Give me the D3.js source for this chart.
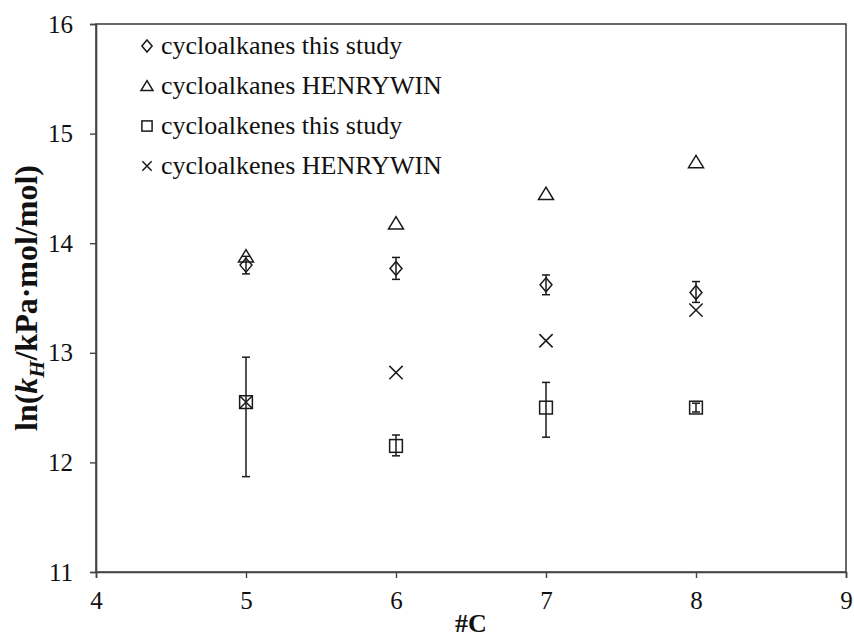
<!DOCTYPE html>
<html>
<head>
<meta charset="utf-8">
<script src="https://cdn.jsdelivr.net/npm/d3@7"></script>
<style>
  html, body { margin: 0; padding: 0; background: #fff; }
  svg { display: block; }
  text { font-family: "Liberation Serif", "Times New Roman", serif; fill: #111; }
</style>
</head>
<body>
<svg id="chart" width="854" height="641"></svg>
<script>
// Number of carbon atoms
const carbons = [5, 6, 7, 8];

// ln(kH) values per series; error bars given as [low, high]
const alkanesStudy = [13.80, 13.77, 13.62, 13.55];
const alkanesStudyErr = [[13.72, 13.88], [13.67, 13.87], [13.53, 13.71], [13.46, 13.65]];
const alkanesHenrywin = [13.88, 14.18, 14.45, 14.74];
const alkenesStudy = [12.55, 12.15, 12.50, 12.50];
const alkenesStudyErr = [[11.87, 12.96], [12.06, 12.25], [12.23, 12.73], [12.46, 12.54]];
const alkenesHenrywin = [12.55, 12.82, 13.11, 13.39];

const xTicks = [4, 5, 6, 7, 8, 9];
const yTicks = [11, 12, 13, 14, 15, 16];

const legendLabels = [
  "cycloalkanes this study",
  "cycloalkanes HENRYWIN",
  "cycloalkenes this study",
  "cycloalkenes HENRYWIN"
];
const legendShapes = ["diamond", "triangle", "square", "cross"];

const margin = { left: 96, right: 8, top: 24, bottom: 69 };
const W = 854, H = 641;
const svg = d3.select("#chart");

const x = d3.scaleLinear().domain([4, 9]).range([margin.left, W - margin.right]);
const y = d3.scaleLinear().domain([11, 16]).range([H - margin.bottom, margin.top]);

const axisColor = "#444";
const markColor = "#1a1a1a";
const serif = "Liberation Serif, Times New Roman, serif";

// Frame
svg.append("rect")
  .attr("x", x(4)).attr("y", y(16))
  .attr("width", x(9) - x(4)).attr("height", y(11) - y(16))
  .attr("fill", "none").attr("stroke", axisColor).attr("stroke-width", 1.6);

// Axes
const xAxis = svg.append("g")
  .attr("transform", `translate(0,${y(11)})`)
  .call(d3.axisBottom(x).tickValues(xTicks).tickSize(6).tickPadding(13).tickFormat(d3.format("d")));
const yAxis = svg.append("g")
  .attr("transform", `translate(${x(4)},0)`)
  .call(d3.axisLeft(y).tickValues(yTicks).tickSize(6).tickPadding(17).tickFormat(d3.format("d")));
[xAxis, yAxis].forEach(g => {
  g.attr("font-family", serif);
  g.select(".domain").attr("stroke", axisColor).attr("stroke-width", 1.6);
  g.selectAll(".tick line").attr("stroke", axisColor).attr("stroke-width", 1.4);
  g.selectAll(".tick text")
    .attr("font-family", serif)
    .attr("font-size", 25).attr("fill", "#111");
});

// Axis titles
svg.append("text")
  .attr("x", (x(4) + x(9)) / 2).attr("y", 632)
  .attr("text-anchor", "middle")
  .attr("font-family", serif)
  .attr("font-size", 26).attr("font-weight", "bold")
  .text("#C");

const yTitle = svg.append("text")
  .attr("transform", `translate(37,${(y(11) + y(16)) / 2}) rotate(-90)`)
  .attr("text-anchor", "middle")
  .attr("font-family", serif)
  .attr("font-size", 32).attr("font-weight", "bold");
yTitle.append("tspan").text("ln(");
yTitle.append("tspan").attr("font-style", "italic").text("k");
yTitle.append("tspan").attr("font-style", "italic").attr("font-size", 22).attr("dy", 7).text("H");
yTitle.append("tspan").attr("dy", -7).text("/kPa·mol/mol)");

// Marker drawing
function drawMarker(g, shape, cx, cy, s) {
  const h = s / 2;
  const common = sel => sel.attr("fill", "none").attr("stroke", markColor).attr("stroke-width", 1.5);
  if (shape === "diamond") {
    g.append("path").call(common)
      .attr("d", `M${cx},${cy - h}L${cx + h * 0.85},${cy}L${cx},${cy + h}L${cx - h * 0.85},${cy}Z`);
  } else if (shape === "triangle") {
    g.append("path").call(common)
      .attr("d", `M${cx},${cy - h * 0.9}L${cx + h},${cy + h * 0.75}L${cx - h},${cy + h * 0.75}Z`);
  } else if (shape === "square") {
    g.append("rect").call(common)
      .attr("x", cx - h * 0.85).attr("y", cy - h * 0.85)
      .attr("width", h * 1.7).attr("height", h * 1.7);
  } else if (shape === "cross") {
    const k = h * 0.78;
    g.append("path").call(common)
      .attr("d", `M${cx - k},${cy - k}L${cx + k},${cy + k}M${cx - k},${cy + k}L${cx + k},${cy - k}`);
  }
}

// Error bars
function drawErrors(errs) {
  const g = svg.append("g").attr("stroke", markColor).attr("stroke-width", 1.5);
  errs.forEach((e, i) => {
    const cx = x(carbons[i]);
    g.append("line").attr("x1", cx).attr("x2", cx).attr("y1", y(e[0])).attr("y2", y(e[1]));
    g.append("line").attr("x1", cx - 4).attr("x2", cx + 4).attr("y1", y(e[0])).attr("y2", y(e[0]));
    g.append("line").attr("x1", cx - 4).attr("x2", cx + 4).attr("y1", y(e[1])).attr("y2", y(e[1]));
  });
}

drawErrors(alkanesStudyErr);
drawErrors(alkenesStudyErr);

const series = [
  { values: alkanesStudy, shape: "diamond", size: 14 },
  { values: alkanesHenrywin, shape: "triangle", size: 15 },
  { values: alkenesStudy, shape: "square", size: 15 },
  { values: alkenesHenrywin, shape: "cross", size: 17 }
];
series.forEach(s => {
  const g = svg.append("g");
  s.values.forEach((v, i) => drawMarker(g, s.shape, x(carbons[i]), y(v), s.size));
});

// Legend
const legend = svg.append("g");
legendLabels.forEach((lab, i) => {
  const cy = 46 + i * 40;
  drawMarker(legend, legendShapes[i], 147, cy, 12);
  legend.append("text")
    .attr("x", 161).attr("y", cy + 8)
    .attr("font-family", serif)
    .attr("font-size", 26)
    .text(lab);
});
</script>
</body>
</html>
